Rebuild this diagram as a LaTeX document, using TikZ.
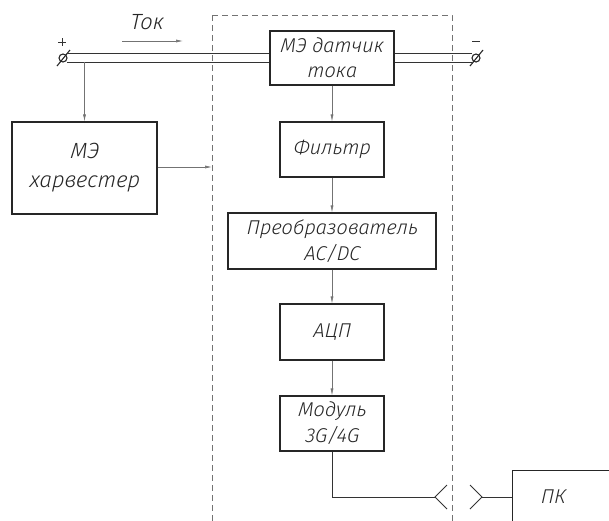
\documentclass[tikz,border=0pt]{standalone}
\usepackage{fontspec}
\setmainfont{Fira Sans Light}[ItalicFont=* Italic, ItalicFeatures={FakeSlant=0.08}]
\usetikzlibrary{arrows.meta}
\begin{document}
\begin{tikzpicture}[x=1pt,y=-1pt,
  box/.style={draw=black!85, line width=1.1pt, rectangle, inner sep=0pt},
  lbl/.style={font=\fontsize{20}{27}\selectfont\itshape, align=center, text=black!85},
  conn/.style={draw=black!55, line width=0.6pt, -{Latex[length=7pt,width=3pt]}},
  wire/.style={draw=black!80, line width=0.9pt},
  term/.style={draw=black!85, line width=1.1pt}]
\useasboundingbox (0,0) rectangle (609,520);
\clip (0,0) rectangle (609,520);
% dashed enclosure
\draw[black!55, line width=0.6pt, dash pattern=on 6pt off 4pt] (212,15) -- (452,15) -- (452,540) (212,15) -- (212,540);
% nodes
\node[box, minimum width=124, minimum height=54] (sensor) at (332,58) {};
\node[lbl] at (sensor) {МЭ датчик\\[-2pt]тока};
\node[box, minimum width=145, minimum height=92] (harv) at (84.5,168) {};
\node[lbl, font=\fontsize{22}{29}\selectfont\itshape] at (harv) {МЭ\\харвестер};
\node[box, minimum width=104, minimum height=55] (filt) at (332,149.5) {};
\node[lbl] at (filt) {Фильтр};
\node[box, minimum width=208, minimum height=56] (conv) at (332,241) {};
\node[lbl] at (conv) {Преобразователь\\[-1pt]AC/DC};
\node[box, minimum width=104, minimum height=56] (adc) at (332,332) {};
\node[lbl] at (adc) {АЦП};
\node[box, minimum width=104, minimum height=55] (mod) at (332,423.5) {};
\node[lbl] at (mod) {Модуль\\[-1pt]3G/4G};
\node[box, anchor=north west, minimum width=130, minimum height=80] (pk) at (512,470) {};
\node[lbl] (pktext) at (553,497) {ПК};
% terminals
\coordinate (tp) at (63,58);
\coordinate (tm) at (476,58);
\draw[term] (tp) circle (4);
\draw[term] (57,66) -- (70,50);
\draw[term] (tm) circle (4);
\draw[term] (470,66) -- (483,50);
\draw[black!80, line width=0.9pt] (58,42) -- (66,42) (62,38) -- (62,46);
\draw[black!80, line width=0.9pt] (472,41) -- (480,41);
% wires
\draw[wire] (67,53) -- (sensor.west |- 0,53);
\draw[wire] (67,62) -- (sensor.west |- 0,62);
\draw[wire] (sensor.east |- 0,53) -- (472,53);
\draw[wire] (sensor.east |- 0,62) -- (472,62);
% Ток
\node[lbl, font=\fontsize{22}{22}\selectfont\itshape] (tok) at (147,22) {Ток};
\coordinate (tokA) at (122,41);
\coordinate (tokB) at (183,41);
\draw[conn] (tokA) -- (tokB);
% connectors
\draw[conn] (harv.north |- 0,62) -- (harv.north);
\coordinate (dashin) at (212,167);
\draw[conn] (harv.east |- dashin) -- (dashin);
\draw[conn] (sensor.south) -- (filt.north);
\draw[conn] (filt.south) -- (conv.north);
\draw[conn] (conv.south) -- (adc.north);
\draw[conn] (adc.south) -- (mod.north);
% output link
\coordinate (plugA) at (435,497);
\coordinate (plugB) at (482,497);
\draw[wire] (mod.south) |- (plugA);
\draw[wire] (447,485) -- (plugA) -- (447,509);
\draw[wire] (470,485) -- (plugB) -- (470,509);
\draw[wire] (plugB) -- (pk.west |- plugB);
\end{tikzpicture}
\end{document}
